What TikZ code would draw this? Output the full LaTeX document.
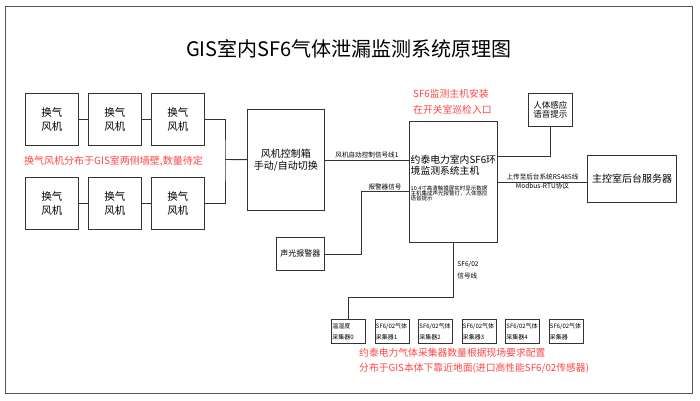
\documentclass[tikz,border=0pt]{standalone}
\usepackage{fontspec}
\newfontfamily\cjk{Noto Sans CJK SC}
\usetikzlibrary{positioning}
\definecolor{linegray}{HTML}{333333}
\definecolor{framegray}{HTML}{555555}
\definecolor{notered}{HTML}{FF4545}
\newcommand\setfs[2]{\fontsize{#1}{#2}\selectfont}
\tikzset{
  box/.style={
    draw=linegray,
    line width=.9pt,
    align=center,
    inner sep=1pt,
    font=\cjk\setfs{10}{12}
  },
  fanbox/.style={box, minimum width=53pt, minimum height=52pt, font=\cjk\setfs{10.5}{14}},
  colbox/.style={box, text width=32pt, minimum height=24pt, align=left, font=\cjk\setfs{6}{11}},
  hosttext/.style={align=left, inner sep=0pt, font=\cjk\setfs{9.8}{10.5}},
  wire/.style={draw=linegray, line width=.9pt},
  tag/.style={inner sep=1pt, font=\cjk\setfs{6.6}{7}},
  note/.style={text=notered, align=left, inner sep=0pt, font=\cjk\setfs{9.8}{16}}
}

\begin{document}
\begin{tikzpicture}[x=1pt, y=-1pt]
  \useasboundingbox (0,0) rectangle (700,400);
  \draw[framegray, line width=.8pt] (5,6) rectangle (692,393);

  \node[font=\cjk\setfs{20}{22}] (title) at (349,49) {GIS室内SF6气体泄漏监测系统原理图};

  % fans
  \node[fanbox, anchor=north west] (fan11) at (25,93) {换气\\风机};
  \node[fanbox, right=9pt of fan11] (fan12) {换气\\风机};
  \node[fanbox, right=9pt of fan12] (fan13) {换气\\风机};
  \node[fanbox, anchor=north west] (fan21) at (25,177) {换气\\风机};
  \node[fanbox, right=9pt of fan21] (fan22) {换气\\风机};
  \node[fanbox, right=9pt of fan22] (fan23) {换气\\风机};
  \node[note, anchor=west, font=\cjk\setfs{10}{12}] (fannote) at (24,161)
    {换气风机分布于GIS室两侧墙壁,数量待定};

  \node[box, anchor=north west, minimum width=77pt, minimum height=101pt] (ctrl)
    at (247,109) {风机控制箱\\手动/自动切换};

  % host
  \node[box, anchor=north west, minimum width=88pt, minimum height=121pt] (host)
    at (409,121) {};
  \node[hosttext, anchor=west] (hostname) at (410.5,165)
    {约泰电力室内SF6环\\境监测系统主机};
  \node[hosttext, anchor=west, font=\cjk\setfs{5.5}{5.4}] (hostspec) at (410.5,193.3)
    {10.4寸高清触摸屏实时显示数据\\主机集成声光报警灯，人体感应\\语音提示};
  \node[note, anchor=west] (hostnote) at (413,102)
    {SF6监测主机安装\\在开关室巡检入口};

  \node[box, anchor=north west, minimum width=44pt, minimum height=33pt,
        font=\cjk\setfs{8.5}{9}] (sensor) at (528,93) {人体感应\\语音提示};
  \node[box, anchor=north west, minimum width=89pt, minimum height=47pt,
        line width=1.2pt] (server) at (587,155) {主控室后台服务器};
  \node[box, anchor=north west, minimum width=48pt, minimum height=33pt,
        font=\cjk\setfs{8}{9}] (alarm) at (276,237) {声光报警器};

  % collectors
  \node[colbox, anchor=north west] (col0) at (331,319) {温湿度\\采集器0};
  \node[colbox, right=8.6pt of col0] (col1) {SF6/02气体\\采集器1};
  \node[colbox, right=8.6pt of col1] (col2) {SF6/02气体\\采集器2};
  \node[colbox, right=8.6pt of col2] (col3) {SF6/02气体\\采集器3};
  \node[colbox, right=8.6pt of col3] (col4) {SF6/02气体\\采集器4};
  \node[colbox, right=8.6pt of col4] (col5) {SF6/02气体\\采集器};
  \node[note, anchor=west, font=\cjk\setfs{9.8}{15}] (colnote) at (359,360.5)
    {约泰电力气体采集器数量根据现场要求配置\\分布于GIS本体下靠近地面(进口高性能SF6/02传感器)};

  % wires
  \coordinate (fanbus) at (225,159.5);
  \coordinate (alarmturn) at (361,191);
  \coordinate (sensorturn) at (550,156);
  \coordinate (busturn) at (453,297);
  \draw[wire] (fan11) -- (fan12) -- (fan13);
  \draw[wire] (fan21) -- (fan22) -- (fan23);
  \draw[wire] (fan13) -| (fanbus) |- (fan23);
  \draw[wire] (fanbus) -- (ctrl);
  \draw[wire] (ctrl) -- node[tag, above] {风机自动控制信号线1} (ctrl -| host.west);
  \draw[wire] (alarmturn -| host.west) -- node[tag, above] {报警器信号} (alarmturn) |- (alarm);
  \draw[wire] (sensorturn -| host.east) -| (sensor);
  \draw[wire] (host) -- node[tag, above] {上传至后台系统RS485线}
    node[tag, below] {Modbus-RTU协议} (host -| server.west);
  \draw[wire] (host.south -| busturn) -- node[tag, right, xshift=3pt, align=left,
    font=\cjk\setfs{6.6}{12}] {SF6/02\\信号线} (busturn) -| (col0);
\end{tikzpicture}
\end{document}
